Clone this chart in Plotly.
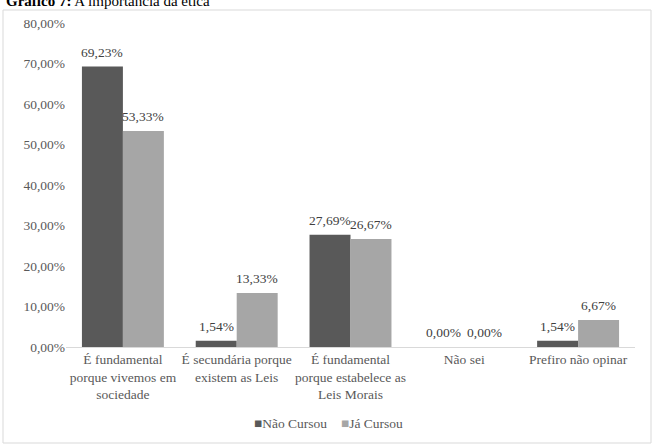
import plotly.graph_objects as go

categories = [
    "É fundamental<br>porque vivemos em<br>sociedade",
    "É secundária porque<br>existem as Leis",
    "É fundamental<br>porque estabelece as<br>Leis Morais",
    "Não sei",
    "Prefiro não opinar",
]
series_names = ["Não Cursou", "Já Cursou"]
nao_cursou = [69.23, 1.54, 27.69, 0.00, 1.54]
ja_cursou = [53.33, 13.33, 26.67, 0.00, 6.67]
y_ticks = [0, 10, 20, 30, 40, 50, 60, 70, 80]
y_tick_labels = [f"{v:.2f}%".replace(".", ",") for v in y_ticks]

FONT = "Liberation Serif"
FS = 13.5
COLORS = ["#595959", "#a6a6a6"]
BARGAP = 0.28
W, H = 654, 448
L, R, T, B = 66, 19, 23, 101
pw, ph = W - L - R, H - T - B

def px_x(p):
    return (p - L) / pw

def px_y(p):
    return (H - B - p) / ph

fig = go.Figure()
for name, vals, col in zip(series_names, [nao_cursou, ja_cursou], COLORS):
    fig.add_trace(go.Bar(
        name=name, x=categories, y=vals,
        marker=dict(color=col, line=dict(width=0)),
    ))

# value labels: anchored at each bar's data point, shifted to the bar's slot
bar_w = pw / len(categories) * (1 - BARGAP) / len(series_names)
value_annots = []
for i, vals in enumerate([nao_cursou, ja_cursou]):
    shift = (i - (len(series_names) - 1) / 2) * bar_w
    for c, v in zip(categories, vals):
        value_annots.append(dict(
            x=c, y=v, xref="x", yref="y",
            text=f"{v:.2f}%".replace(".", ","),
            xanchor="center", yanchor="bottom", showarrow=False,
            xshift=shift, yshift=5,
            font=dict(family=FONT, size=FS, color="#404040"),
        ))

legend_annots = []
for name, col, xpos in zip(series_names, COLORS, [252, 339]):
    legend_annots.append(dict(
        text=f"<span style='color:{col}'>■</span>{name}",
        xref="paper", yref="paper", x=px_x(xpos), y=px_y(423),
        xanchor="left", yanchor="middle", showarrow=False,
        font=dict(family=FONT, size=FS, color="#595959"),
    ))

fig.update_layout(
    width=W, height=H,
    margin=dict(l=L, r=R, t=T, b=B),
    paper_bgcolor="white", plot_bgcolor="white",
    barmode="group", bargap=BARGAP, bargroupgap=0,
    font=dict(family=FONT, size=FS, color="#595959"),
    showlegend=False,
    xaxis=dict(
        showline=True, linecolor="#d9d9d9", linewidth=1,
        ticks="", showgrid=False,
        tickfont=dict(family=FONT, size=FS, color="#595959"),
    ),
    yaxis=dict(
        range=[0, 80], tickmode="array", tickvals=y_ticks, ticktext=y_tick_labels,
        showgrid=False, zeroline=False, showline=False,
        tickfont=dict(family=FONT, size=FS, color="#595959"),
    ),
    shapes=[dict(
        type="rect", xref="paper", yref="paper",
        x0=px_x(3), x1=px_x(651), y0=px_y(443), y1=px_y(10),
        line=dict(color="#d9d9d9", width=1), fillcolor="rgba(0,0,0,0)",
        layer="below",
    )],
    annotations=[dict(
        text="<b>Gráfico 7:</b> A importância da ética",
        xref="paper", yref="paper", x=px_x(4), y=px_y(1),
        xanchor="left", yanchor="middle", showarrow=False,
        font=dict(family=FONT, size=15, color="black"),
    )] + value_annots + legend_annots,
)

fig.write_html("out.html")
